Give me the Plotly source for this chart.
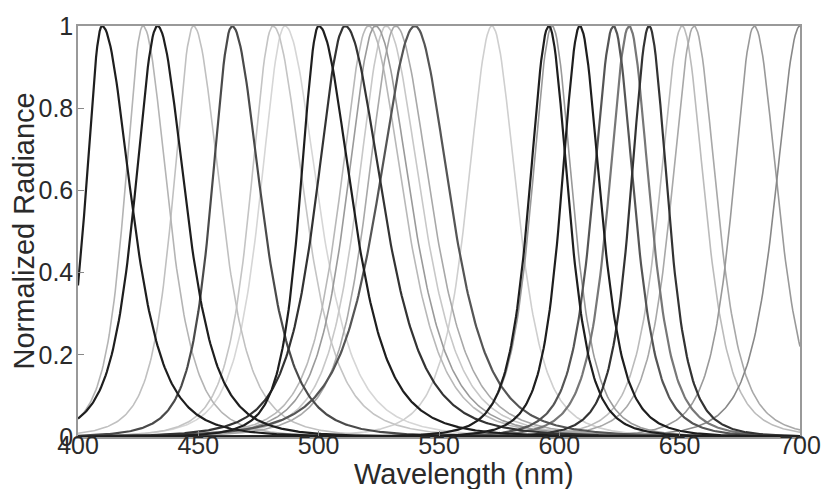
import numpy as np
import plotly.graph_objects as go

# Peak wavelengths (nm)
peak_nm = [410, 427, 433, 448, 464, 481, 486, 500, 511, 520.7, 523.6, 528, 532, 540,
           572, 595.6, 597, 608.5, 622.5, 629, 637.3, 651, 656, 681, 700]
# Half widths at half maximum on the blue (left) and red (right) side, nm
hw_left = [8, 9, 11, 10, 10, 11, 12, 9, 14, 14, 14, 14, 14, 18,
           12, 9.5, 10, 9, 10, 10, 9, 11, 11, 10.5, 12]
hw_right = [14, 12, 13.5, 13, 14, 15, 16, 16, 18, 17, 17, 17, 17, 17,
            12, 9.5, 10, 10, 10, 10, 9, 11, 11, 11.5, 12]
# Grey level of each curve as printed
shade = ["#1e1e1e", "#b4b4b4", "#1e1e1e", "#c0c0c0", "#4a4a4a", "#c4c4c4", "#d6d6d6",
         "#1e1e1e", "#333333", "#b8b8b8", "#9a9a9a", "#c8c8c8", "#a8a8a8", "#555555",
         "#cfcfcf", "#1e1e1e", "#999999", "#1e1e1e", "#555555", "#777777", "#333333",
         "#bbbbbb", "#a8a8a8", "#999999", "#888888"]

x_ticks = [400, 450, 500, 550, 600, 650, 700]
y_ticks = [0, 0.2, 0.4, 0.6, 0.8, 1]
y_tick_labels = ["0", "0.2", "0.4", "0.6", "0.8", "1"]

wl = np.arange(400, 700.25, 0.5)

def band(c, hl, hr):
    d = wl - c
    hw = np.where(d < 0, hl, hr)
    a = hw / np.sqrt(np.sqrt(2) - 1)
    return 1.0 / (1.0 + (d / a) ** 2) ** 2

def lum(c):
    return int(c[1:3], 16)

order = sorted(range(len(peak_nm)), key=lambda i: -lum(shade[i]))

fig = go.Figure()
for i in order:
    dark = lum(shade[i]) < 0x80
    fig.add_trace(go.Scatter(
        x=wl, y=band(peak_nm[i], hw_left[i], hw_right[i]), mode="lines",
        line=dict(color=shade[i], width=2.2 if dark else 1.6),
        showlegend=False, hoverinfo="skip"))

font = "Liberation Sans, Arial, Helvetica, sans-serif"
fig.update_layout(
    width=833, height=489,
    margin=dict(l=78, r=28, t=18, b=52),
    paper_bgcolor="white", plot_bgcolor="white",
    font=dict(family=font, size=25, color="#2a2a2a"),
    annotations=[
        dict(text="Wavelength (nm)", xref="paper", yref="paper", x=0.535, y=0,
             yshift=-37, xanchor="center", yanchor="middle", showarrow=False,
             font=dict(size=29, family=font, color="#2a2a2a")),
        dict(text="Normalized Radiance", xref="paper", yref="paper", x=0, y=0.5,
             xshift=-55, xanchor="center", yanchor="middle", showarrow=False,
             textangle=-90, font=dict(size=29, family=font, color="#2a2a2a")),
    ],
)
fig.update_xaxes(range=[400, 700], tickvals=x_ticks, ticks="inside", ticklen=6,
                 tickcolor="#888", showline=True, linecolor="#999", linewidth=1.5,
                 mirror=True, showgrid=False, zeroline=False, ticklabelstandoff=-15,
                 ticklabeloverflow="allow")
fig.update_yaxes(range=[0, 1.0], tickvals=y_ticks, ticktext=y_tick_labels,
                 ticks="inside", ticklen=6, tickcolor="#888", showline=True,
                 linecolor="#999", linewidth=1.5, mirror=True, showgrid=False,
                 zeroline=False, ticklabelstandoff=-2, ticklabeloverflow="allow")
fig.write_html("out.html", config={"displayModeBar": False},
               post_script="document.body.style.margin='0';"
                           "document.body.style.overflow='hidden';")
